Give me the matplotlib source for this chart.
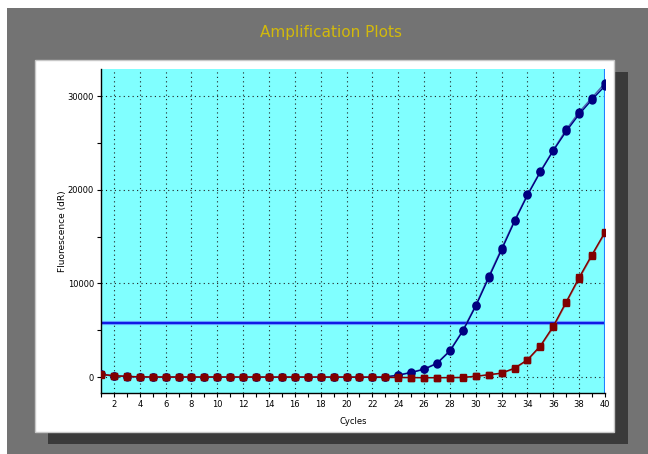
import matplotlib
matplotlib.use("Agg")
import matplotlib.pyplot as plt
import matplotlib.patches as mpatches
from matplotlib.ticker import MultipleLocator

# data
cycles = list(range(1, 41))
blue_a = [280, 110, 60, 20, 0, -10, 0, -10, 0, -10, 0, -20, -10, -20, -10, 0, -10, -10,
          -10, -10, -20, -10, 0, 200, 480, 830, 1450, 2780, 4920, 7580, 10600, 13600,
          16620, 19420, 21910, 24190, 26250, 28070, 29640, 31100]
blue_b = [300, 130, 80, 30, 10, 0, 10, 0, 10, 0, 10, -10, 0, -10, 0, 10, 0, 0,
          0, 0, -10, 0, 20, 230, 520, 880, 1500, 2850, 5000, 7700, 10750, 13750,
          16750, 19500, 22000, 24250, 26450, 28300, 29850, 31400]
red_a = [290, 140, 70, 30, 0, 0, 0, 0, 0, 0, 0, 0, 0, -10, -10, -10, -10, -10,
         -10, -10, -20, -20, -30, -40, -50, -60, -60, -50, -40, 100, 250, 430,
         960, 1850, 3340, 5440, 8040, 10640, 13090, 15480]
red_b = [270, 120, 60, 20, -10, -10, -10, -10, -10, -10, -10, -10, -10, -20, -20, -20, -20, -20,
         -20, -20, -30, -30, -40, -50, -60, -70, -70, -60, -50, 80, 220, 400,
         900, 1780, 3250, 5300, 7900, 10500, 12950, 15380]
threshold = 5750

W, H = 648, 454
fig = plt.figure(figsize=(W / 100, H / 100), dpi=100, facecolor="white")


def px_rect(x0, y0, x1, y1, **kw):
    # rectangle given in pixel coords (top-left origin)
    r = mpatches.Rectangle((x0 / W, 1 - y1 / H), (x1 - x0) / W, (y1 - y0) / H,
                           transform=fig.transFigure, **kw)
    fig.patches.append(r)


px_rect(7, 8, W, H, facecolor="#737373", edgecolor="none", zorder=0)
px_rect(48, 72, 628, 444, facecolor="#3a3a3a", edgecolor="none", zorder=1)
px_rect(35, 60, 614, 432, facecolor="white", edgecolor="#c8c8c8", lw=1, zorder=2)

fig.text(331 / W, 1 - 33 / H, "Amplification Plots", color="#d2b90c",
         fontsize=11, ha="center", va="center")

ax = fig.add_axes([101 / W, 1 - 393 / H, (605 - 101) / W, (393 - 69) / H])
ax.set_facecolor("#80ffff")
ax.set_zorder(3)

ax.set_xlim(1, 40)
ax.set_ylim(-1700, 32900)
ax.xaxis.set_major_locator(MultipleLocator(2))
ax.xaxis.set_minor_locator(MultipleLocator(1))
ax.yaxis.set_major_locator(MultipleLocator(10000))
ax.yaxis.set_minor_locator(MultipleLocator(5000))
ax.tick_params(which="both", labelsize=6, length=3, width=0.8, direction="out", pad=2)
ax.grid(True, which="major", color="#202020", linestyle=(0, (1, 3)), lw=0.8)
for s in ("top", "right"):
    ax.spines[s].set_visible(False)
ax.spines["left"].set_linewidth(1)
ax.spines["bottom"].set_linewidth(1)

ax.axhline(threshold, color="#60a0ff", lw=3, zorder=2)
ax.axhline(threshold, color="#0000e0", lw=1.2, zorder=2)
ax.axvline(40, color="#2080ff", lw=1.5, zorder=2)

ax.plot(cycles, blue_b, color="#5060b0", lw=1, marker="o", ms=5,
        mfc="#000080", mec="#000080", zorder=4)
ax.plot(cycles, blue_a, color="#000080", lw=1, marker="o", ms=5,
        mfc="#000080", mec="#000080", zorder=4)
ax.plot(cycles, red_b, color="#a06868", lw=1, marker="s", ms=5,
        mfc="#800000", mec="#800000", zorder=5)
ax.plot(cycles, red_a, color="#800000", lw=1, marker="s", ms=5,
        mfc="#800000", mec="#800000", zorder=5)

ax.set_xlabel("Cycles", fontsize=6, labelpad=6)
ax.set_ylabel("Fluorescence (dR)", fontsize=6.5)
ax.yaxis.set_label_coords((67 - 101) / 504, 0.5)

fig.savefig("out.png", dpi=100, facecolor="white")
